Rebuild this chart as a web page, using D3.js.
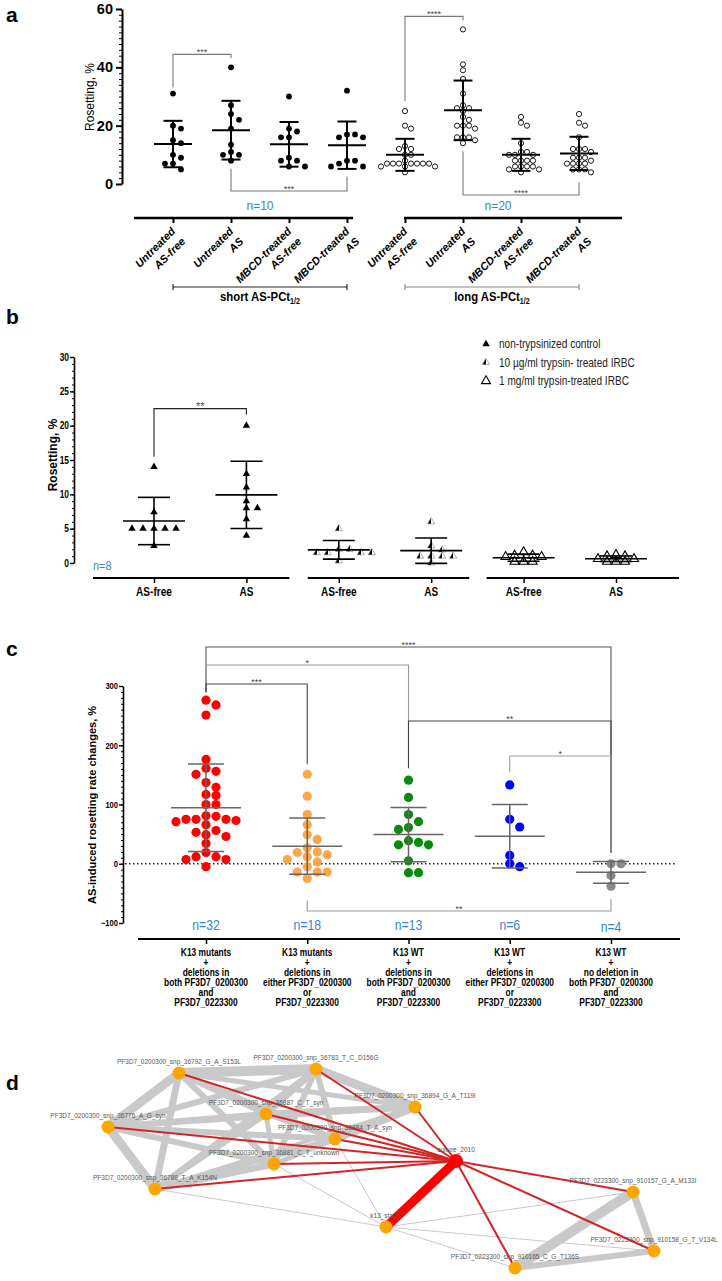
<!DOCTYPE html>
<html lang="en">
<head>
<meta charset="UTF-8">
<title>Rosetting figure</title>
<script src="https://cdn.jsdelivr.net/npm/d3@7/dist/d3.min.js"></script>
<style>
  body { margin: 0; background: #fff; }
  svg { display: block; }
</style>
</head>
<body>
<svg id="fig" width="722" height="1281"></svg>
<script>
// ---------- panel a data ----------
var aCategories = [["Untreated", "AS-free"], ["Untreated", "AS"], ["MBCD-treated", "AS-free"], ["MBCD-treated", "AS"],
                   ["Untreated", "AS-free"], ["Untreated", "AS"], ["MBCD-treated", "AS-free"], ["MBCD-treated", "AS"]];
var aGroupNames = ["short AS-PCt", "long AS-PCt"];
var aSampleSizes = ["n=10", "n=20"];
var aYTicks = [0, 20, 40, 60];
var shortUntreatedFree = [31, 20, 19, 15, 14, 10, 9, 7, 7, 5];
var shortUntreatedAS = [40, 27, 24, 22, 19, 13.5, 11, 10, 10, 8];
var shortMbcdFree = [30, 19, 18, 16, 16, 9, 8, 8, 6, 6];
var shortMbcdAS = [32, 17, 17, 16, 16, 8, 8, 7, 6, 6];
var longUntreatedFree = [25, 20, 19, 13, 12, 12, 10, 10, 8, 7, 7, 7, 7, 7, 7, 7, 6, 6, 6, 4];
var longUntreatedAS = [53, 41, 39, 36, 31, 27, 26, 26, 25, 23, 22, 20, 20, 20, 19, 16, 16, 16, 15, 14];
var longMbcdFree = [23, 21, 20, 14, 11, 11, 10, 10, 10, 8, 8, 8, 8, 6, 6, 6, 6, 5, 5, 4];
var longMbcdAS = [24, 21, 20, 16, 12, 12, 12, 11, 9, 9, 9, 8, 7, 7, 7, 7, 5, 5, 5, 4];
var aSigTop = [{a: 0, b: 1, label: "***"}, {a: 4, b: 5, label: "****"}];
var aSigBottom = [{a: 1, b: 3, label: "***"}, {a: 5, b: 7, label: "****"}];

// ---------- panel b data ----------
var bCategories = ["AS-free", "AS", "AS-free", "AS", "AS-free", "AS"];
var bLegend = ["non-trypsinized control", "10 \u00b5g/ml trypsin- treated IRBC", "1 mg/ml trypsin-treated IRBC"];
var bYTicks = [0, 5, 10, 15, 20, 25, 30];
var bControlFree = [14, 7.4, 5, 5, 5, 5, 5, 2.5];
var bControlAS = [20, 13, 11, 9, 8, 8, 6.4, 4];
var b10Free = [5, 2, 2, 1.5, 1.5, 1.5, 1.5, 0.3];
var b10AS = [6, 2.5, 1.9, 1, 1, 1, 1, 0];
var b1mgFree = [1.6, 1.1, 1.1, 0.9, 0.9, 0.2, 0.2, 0.2];
var b1mgAS = [1.2, 1, 1, 0.6, 0.6, 0.2, 0.2, 0.2];

// ---------- panel c data ----------
var cCategories = [
  ["K13 mutants", "+", "deletions in", "both PF3D7_0200300", "and", "PF3D7_0223300"],
  ["K13 mutants", "+", "deletions in", "either PF3D7_0200300", "or", "PF3D7_0223300"],
  ["K13 WT", "+", "deletions in", "both PF3D7_0200300", "and", "PF3D7_0223300"],
  ["K13 WT", "+", "deletions in", "either PF3D7_0200300", "or", "PF3D7_0223300"],
  ["K13 WT", "+", "no deletion in", "both PF3D7_0200300", "and", "PF3D7_0223300"]];
var cYTicks = [-100, 0, 100, 200, 300];
var cMutBoth = [276, 268, 251, 176, 161, 156, 151, 137, 129, 117, 115, 100, 100, 81, 80, 75, 75, 75, 73, 71, 66, 56, 53, 49, 46, 34, 19, 12, 12, 7, 7, -5];
var cMutEither = [151, 114, 83, 66, 49, 41, 27, 20, 19, 15, 12, 7, 3, -5, -14, -14, -14, -25];
var cWtBoth = [141, 112, 83, 71, 61, 58, 39, 36, 32, 32, 5, -15, -15];
var cWtEither = [133, 75, 62, 14, 0, -5];
var cWtNone = [0, 0, -20, -38];
var cSig = [
  {a: 0, b: 4, label: "****"},
  {a: 0, b: 2, label: "*"},
  {a: 0, b: 1, label: "***"},
  {a: 2, b: 4, label: "**"},
  {a: 3, b: 4, label: "*"}];
var cSigBelow = {a: 1, b: 4, label: "**"};

// ---------- panel d data ----------
var dNodes = ["PF3D7_0200300_snp_36792_G_A_S153L", "PF3D7_0200300_snp_36783_T_C_D156G", "PF3D7_0200300_snp_36894_G_A_T119I",
  "PF3D7_0200300_snp_36776_A_G_syn", "PF3D7_0200300_snp_36887_C_T_syn", "PF3D7_0200300_snp_36884_T_A_syn",
  "PF3D7_0200300_snp_36881_C_T_unknown", "PF3D7_0200300_snp_36788_T_A_K154N", "k13_status", "culture_2010",
  "PF3D7_0223300_snp_910157_G_A_M133I", "PF3D7_0223300_snp_910158_G_T_V134L", "PF3D7_0223300_snp_910165_C_G_T136S"];
// layout from the network tool, in layout units
var dLayoutX = [125, 262, 361, 54, 212, 281, 220, 101, 332, 402, 579, 600, 461];
var dLayoutY = [4, 0, 38, 58, 45, 70, 95, 120, 158, 92, 123, 182, 199];
// [source, target, weight]
var dGrayEdges = [[0, 1, 10], [0, 3, 9], [3, 7, 9], [0, 7, 7], [0, 4, 6], [0, 5, 6], [0, 6, 6], [1, 2, 9], [1, 4, 7],
  [1, 5, 6], [1, 6, 6], [1, 3, 6], [3, 4, 6], [3, 5, 6], [3, 6, 6], [7, 6, 7], [7, 4, 6], [7, 5, 6], [7, 1, 5],
  [2, 4, 7], [2, 5, 8], [2, 3, 5], [2, 0, 5], [4, 5, 5], [4, 6, 5], [5, 6, 5], [2, 6, 5], [7, 2, 4],
  [7, 8, 1], [6, 8, 1], [5, 8, 1], [8, 10, 1], [8, 11, 1], [8, 12, 1],
  [10, 12, 10], [10, 11, 7], [12, 11, 6]];
var dRedEdges = [[9, 0, 2], [9, 1, 2], [9, 2, 2], [9, 3, 2], [9, 4, 2], [9, 5, 2], [9, 6, 2], [9, 7, 2],
  [9, 10, 2], [9, 11, 2], [9, 12, 2], [9, 8, 9]];

// ---------- helpers ----------
var svg = d3.select("#fig");
var sans = "'Liberation Sans', Arial, sans-serif";
var nBlue = "#2f86d6";
var squeeze = 0.84;   // narrow look of the original's condensed font

// beeswarm: points of about the same height are pushed apart sideways
function swarm(vals, y, step, rowTol) {
  var pts = vals.map(function (v) { return {v: v, y: y(v), dx: 0}; })
    .sort(function (p, q) { return p.y - q.y; });
  var done = [];
  pts.forEach(function (p) {
    for (var k = 0; k < 80; k++) {
      var off = (k % 2 ? 1 : -1) * Math.ceil(k / 2) * step;
      var ok = done.every(function (q) { return Math.abs(q.y - p.y) >= rowTol || Math.abs(q.dx - off) >= step - 0.01; });
      if (ok) { p.dx = off; break; }
    }
    done.push(p);
  });
  return pts;
}

function errorBars(g, x, y, vals, meanW, capW, color, sw) {
  var m = d3.mean(vals), s = d3.deviation(vals);
  g.append("line").attr("x1", x).attr("x2", x).attr("y1", y(m - s)).attr("y2", y(m + s))
    .attr("stroke", color).attr("stroke-width", sw);
  [m - s, m + s].forEach(function (v) {
    g.append("line").attr("x1", x - capW / 2).attr("x2", x + capW / 2).attr("y1", y(v)).attr("y2", y(v))
      .attr("stroke", color).attr("stroke-width", sw);
  });
  g.append("line").attr("x1", x - meanW / 2).attr("x2", x + meanW / 2).attr("y1", y(m)).attr("y2", y(m))
    .attr("stroke", color).attr("stroke-width", sw);
}

function styleAxis(g, size, weight, narrowed) {
  var t = g.selectAll(".tick text").attr("font-family", sans).attr("font-size", size)
    .attr("font-weight", weight).attr("fill", "#000");
  if (narrowed) t.attr("transform", "scale(" + squeeze + ",1)");
}

// text in the condensed style of the original
function ntext(g, x, y, str, size, anchor) {
  return g.append("text").attr("transform", "translate(" + x + "," + y + ") scale(" + squeeze + ",1)")
    .attr("text-anchor", anchor || "middle").attr("font-family", sans).attr("font-size", size).text(str);
}

function bracket(g, x1, y1, x2, y2, yTop, label, color, fs) {
  g.append("path").attr("d", "M" + x1 + "," + y1 + "V" + yTop + "H" + x2 + "V" + y2)
    .attr("fill", "none").attr("stroke", color).attr("stroke-width", 1.1);
  g.append("text").attr("x", (x1 + x2) / 2).attr("y", yTop + 1).attr("text-anchor", "middle")
    .attr("font-family", sans).attr("font-size", fs).attr("fill", "#444").text(label);
}

// panel letters
[["a", 22], ["b", 324], ["c", 656], ["d", 1090]].forEach(function (d) {
  svg.append("text").attr("x", 6).attr("y", d[1]).attr("font-family", sans).attr("font-weight", "bold")
    .attr("font-size", 21).text(d[0]);
});

// ================= PANEL A =================
(function () {
  var g = svg.append("g");
  var y = d3.scaleLinear().domain([0, 60]).range([184, 9]);
  var x = d3.scalePoint().domain(d3.range(8)).range([173, 579]);
  var series = [shortUntreatedFree, shortUntreatedAS, shortMbcdFree, shortMbcdAS,
                longUntreatedFree, longUntreatedAS, longMbcdFree, longMbcdAS];

  var ax = g.append("g").attr("transform", "translate(122,0)")
    .call(d3.axisLeft(y).tickValues(aYTicks).tickSize(6).tickSizeOuter(0).tickPadding(3));
  ax.select(".domain").attr("stroke-width", 2);
  ax.selectAll(".tick line").attr("stroke-width", 2);
  styleAxis(ax, 14.5, "bold");
  g.append("g").attr("transform", "translate(122,0)")
    .call(d3.axisLeft(y).tickValues(d3.range(0, 61, 2)).tickSize(3).tickFormat(""))
    .call(function (s) { s.select(".domain").remove(); });

  g.append("text").attr("transform", "translate(94,97) rotate(-90)").attr("text-anchor", "middle")
    .attr("font-family", sans).attr("font-size", 12).text("Rosetting, %");

  series.forEach(function (vals, i) {
    var open = i >= 4;
    swarm(vals, y, open ? 6 : 8, open ? 4 : 6).forEach(function (p) {
      g.append("circle").attr("cx", x(i) + p.dx).attr("cy", p.y).attr("r", open ? 2.6 : 2.9)
        .attr("fill", open ? "#fff" : "#000").attr("stroke", "#000").attr("stroke-width", open ? 0.9 : 0);
    });
    errorBars(g, x(i), y, vals, 38, 19, "#000", 2);
  });

  // significance
  aSigTop.forEach(function (s, k) {
    var top = y(d3.max(series[s.b])) - 13;
    bracket(g, x(s.a), y(d3.max(series[s.a])) - 6 - k * 4, x(s.b), top + 4, top, s.label, "#777", 9);
  });
  aSigBottom.forEach(function (s, k) {
    var base = y(0) + 7 + k * 4;
    bracket(g, x(s.a), y(d3.min(series[s.a])) + 8, x(s.b), y(d3.min(series[s.b])) + 10, base, s.label, "#777", 9);
  });

  // x axis
  var xa = g.append("g").attr("transform", "translate(0,218)")
    .call(d3.axisBottom(x).tickSize(5).tickFormat(""));
  xa.select(".domain").remove();
  xa.selectAll(".tick line").attr("stroke-width", 2);
  [[x(0) - 39, x(3) + 6], [x(4) - 1, x(7) + 43]].forEach(function (r) {
    g.append("line").attr("x1", r[0]).attr("x2", r[1]).attr("y1", 218).attr("y2", 218)
      .attr("stroke", "#000").attr("stroke-width", 2.5);
  });
  aCategories.forEach(function (lines, i) {
    var t = g.append("text").attr("transform", "translate(" + (x(i) + 3) + ",232) rotate(-45)")
      .attr("text-anchor", "end").attr("font-family", sans).attr("font-style", "italic")
      .attr("font-weight", "bold").attr("font-size", 11);
    lines.forEach(function (s, j) { t.append("tspan").attr("x", 0).attr("dy", j ? "1.3em" : 0).text(s); });
  });
  aSampleSizes.forEach(function (s, k) {
    g.append("text").attr("x", (x(k * 4 + 1) + x(k * 4 + 2)) / 2 + k * 6).attr("y", 210).attr("text-anchor", "middle")
      .attr("font-family", sans).attr("font-size", 12).attr("fill", nBlue).text(s);
  });
  aGroupNames.forEach(function (name, k) {
    var x1 = x(k * 4), x2 = x(k * 4 + 3), col = k ? "#888" : "#222";
    g.append("path").attr("d", "M" + x1 + ",284V290M" + x1 + ",287H" + x2 + "M" + x2 + ",284V290")
      .attr("stroke", col).attr("stroke-width", 1.2).attr("fill", "none");
    var t = ntext(g, (x1 + x2) / 2, 301, name, 13.5).attr("font-weight", "bold");
    t.append("tspan").attr("font-size", 8.5).attr("dy", 3).text("1/2");
  });
})();

// ================= PANEL B =================
(function () {
  var g = svg.append("g");
  var y = d3.scaleLinear().domain([0, 30]).range([563, 357]);
  var x = d3.scalePoint().domain(d3.range(6)).range([154, 616]);
  var series = [bControlFree, bControlAS, b10Free, b10AS, b1mgFree, b1mgAS];

  var defs = svg.append("defs");
  var grad = defs.append("linearGradient").attr("id", "half").attr("x1", 0).attr("x2", 1);
  grad.append("stop").attr("offset", "50%").attr("stop-color", "#000");
  grad.append("stop").attr("offset", "50%").attr("stop-color", "#fff");

  var tri = d3.symbol().type(d3.symbolTriangle);
  function marker(sel, kind) {
    if (kind === 0) sel.attr("d", tri.size(24)()).attr("fill", "#000");
    else if (kind === 1) sel.attr("d", tri.size(22)()).attr("fill", "url(#half)").attr("stroke", "#666").attr("stroke-width", 0.5);
    else sel.attr("d", tri.size(36)()).attr("fill", "#fff").attr("stroke", "#000").attr("stroke-width", 1.1);
  }

  var ax = g.append("g").attr("transform", "translate(74,0)")
    .call(d3.axisLeft(y).tickValues(bYTicks).tickSize(4).tickSizeOuter(0).tickPadding(2));
  ax.select(".domain").attr("stroke-width", 1.6);
  ax.selectAll(".tick line").attr("stroke-width", 1.4);
  styleAxis(ax, 10, "bold", true);
  g.append("g").attr("transform", "translate(74,0)")
    .call(d3.axisLeft(y).tickValues(d3.range(0, 31, 1)).tickSize(2).tickFormat(""))
    .call(function (s) { s.select(".domain").remove(); });
  g.append("text").attr("transform", "translate(57,455) rotate(-90)").attr("text-anchor", "middle")
    .attr("font-family", sans).attr("font-weight", "bold").attr("font-size", 12).text("Rosetting, %");

  series.forEach(function (vals, i) {
    var kind = Math.floor(i / 2);
    swarm(vals, y, kind === 2 ? 9 : 11, 5).forEach(function (p) {
      g.append("path").attr("transform", "translate(" + (x(i) + p.dx) + "," + p.y + ")").call(marker, kind);
    });
    errorBars(g, x(i), y, vals, 62, 32, "#000", 1.6);
  });

  bracket(g, x(0), y(d3.max(bControlFree)) - 10, x(1), y(d3.max(bControlAS)) - 11,
          y(d3.max(bControlAS)) - 17, "**", "#222", 11);

  var xa = g.append("g").attr("transform", "translate(0,578)")
    .call(d3.axisBottom(x).tickSize(5).tickFormat(""));
  xa.select(".domain").remove();
  xa.selectAll(".tick line").attr("stroke-width", 1.5);
  [[x(0) - 61, x(1) + 43], [x(2) - 31, x(3) + 38], [x(4) - 37, x(5) + 63]].forEach(function (r) {
    g.append("line").attr("x1", r[0]).attr("x2", r[1]).attr("y1", 578).attr("y2", 578)
      .attr("stroke", "#000").attr("stroke-width", 2);
  });
  bCategories.forEach(function (s, i) {
    ntext(g, x(i), 596, s, 12).attr("font-weight", "bold");
  });
  ntext(g, 93, 570, "n=" + bControlFree.length, 13, "start").attr("fill", nBlue);

  bLegend.forEach(function (s, k) {
    var ly = 344 + k * 18.5;
    g.append("path").attr("transform", "translate(486," + ly + ")").call(marker, k);
    ntext(g, 499, ly + 4, s, 12, "start").attr("fill", "#222");
  });
})();

// ================= PANEL C =================
(function () {
  var g = svg.append("g");
  var y = d3.scaleLinear().domain([-100, 300]).range([923, 686]);
  var x = d3.scalePoint().domain(d3.range(5)).range([206, 611]);
  var series = [cMutBoth, cMutEither, cWtBoth, cWtEither, cWtNone];
  var colors = ["#ff0000", "#ffa54a", "#0a8a0a", "#0000ff", "#8a8a8a"];

  var ax = g.append("g").attr("transform", "translate(123,0)")
    .call(d3.axisLeft(y).tickValues(cYTicks).tickSize(4).tickSizeOuter(0).tickPadding(2));
  ax.select(".domain").attr("stroke-width", 1.6);
  ax.selectAll(".tick line").attr("stroke-width", 1.4);
  styleAxis(ax, 9, "bold", true);
  g.append("g").attr("transform", "translate(123,0)")
    .call(d3.axisLeft(y).tickValues(d3.range(-100, 301, 10)).tickSize(2).tickFormat(""))
    .call(function (s) { s.select(".domain").remove(); });
  g.append("text").attr("transform", "translate(96,805) rotate(-90)").attr("text-anchor", "middle")
    .attr("font-family", sans).attr("font-weight", "bold").attr("font-size", 11)
    .text("AS-induced rosetting rate changes, %");

  g.append("line").attr("x1", 125).attr("x2", 676).attr("y1", y(0)).attr("y2", y(0))
    .attr("stroke", "#222").attr("stroke-width", 1.3).attr("stroke-dasharray", "1.5,2.5");

  series.forEach(function (vals, i) {
    swarm(vals, y, 10, 8).forEach(function (p) {
      g.append("circle").attr("cx", x(i) + p.dx).attr("cy", p.y).attr("r", 4.6).attr("fill", colors[i]);
    });
    errorBars(g, x(i), y, vals, 70, 36, "#666", 1.5);
  });

  // brackets above
  var legBottom = y(d3.max(cMutBoth)) - 8;
  var tops = [647, 665, 684, 721, 756];
  var ends = [y(0) - 11, y(d3.max(cWtBoth)) - 12, y(d3.max(cMutEither)) - 10, y(0) - 11, y(0) - 11];
  var starts = [legBottom, legBottom, legBottom, y(d3.max(cWtBoth)) - 12, y(d3.max(cWtEither)) - 13];
  var cols = ["#555", "#999", "#444", "#444", "#999"];
  cSig.forEach(function (s, k) {
    bracket(g, x(s.a), starts[k], x(s.b), ends[k], tops[k], s.label, cols[k], 9);
  });
  bracket(g, x(cSigBelow.a), y(d3.min(cMutEither)) + 22, x(cSigBelow.b), y(d3.min(cWtNone)) + 13,
          y(-100) - 12, cSigBelow.label, "#999", 9);

  var xa = g.append("g").attr("transform", "translate(0,939)")
    .call(d3.axisBottom(x).tickSize(5).tickFormat(""));
  xa.select(".domain").remove();
  xa.selectAll(".tick line").attr("stroke-width", 1.5);
  g.append("line").attr("x1", x(0) - 68).attr("x2", x(4) + 69).attr("y1", 939).attr("y2", 939)
    .attr("stroke", "#000").attr("stroke-width", 2);

  series.forEach(function (vals, i) {
    ntext(g, x(i), 930 + (i === 4 ? 2 : 0), "n=" + vals.length, 14.5).attr("fill", nBlue);
  });
  cCategories.forEach(function (lines, i) {
    lines.forEach(function (s, j) {
      ntext(g, x(i), 956 + j * 10, s, 10).attr("font-weight", "bold");
    });
  });
})();

// ================= PANEL D =================
(function () {
  var g = svg.append("g");
  var x = d3.scaleLinear().domain([0, 600]).range([54, 654]);
  var y = d3.scaleLinear().domain([0, 200]).range([1069, 1269]);
  var w = d3.scaleLinear().domain([0, 10]).range([0, 10]);
  function px(i) { return x(dLayoutX[i]); }
  function py(i) { return y(dLayoutY[i]); }

  dGrayEdges.forEach(function (e) {
    g.append("line").attr("x1", px(e[0])).attr("y1", py(e[0])).attr("x2", px(e[1])).attr("y2", py(e[1]))
      .attr("stroke", "#c9c9c9").attr("stroke-width", w(e[2]));
  });
  dRedEdges.forEach(function (e) {
    g.append("line").attr("x1", px(e[0])).attr("y1", py(e[0])).attr("x2", px(e[1])).attr("y2", py(e[1]))
      .attr("stroke", e[2] > 4 ? "#ff0000" : "#d42424").attr("stroke-width", w(e[2]));
  });
  dNodes.forEach(function (name, i) {
    var hub = name === "culture_2010";
    g.append("circle").attr("cx", px(i)).attr("cy", py(i)).attr("r", hub ? 7 : 6.5)
      .attr("fill", hub ? "#ff0000" : "#ffa500");
    g.append("text").attr("transform", "translate(" + px(i) + "," + (py(i) - 9) + ") scale(0.93,1)")
      .attr("text-anchor", "middle").attr("font-family", sans).attr("font-size", 7)
      .attr("fill", "#555").text(name);
  });
})();
</script>
</body>
</html>
